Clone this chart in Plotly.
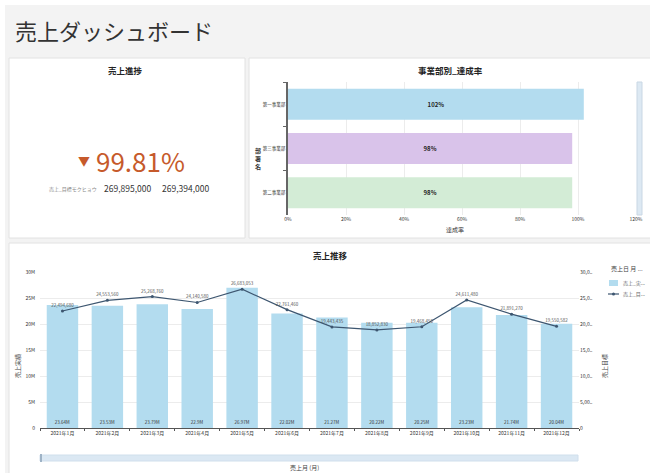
import plotly.graph_objects as go

W, H = 650, 473
FONT = "Noto Sans CJK JP, Noto Sans, sans-serif"

# ---------------- data ----------------
dashboard_title = "売上ダッシュボード"

kpi_title = "売上進捗"
kpi_label = "売上_目標モクヒョウ"
kpi_target = 269895000
kpi_actual = 269394000

dept_names = ["第一事業部", "第三事業部", "第二事業部"]
dept_rate = [1.02, 0.98, 0.98]
dept_colors = ["#b3dcef", "#d9c3ea", "#d3ecd6"]

months = ["2021年1月", "2021年2月", "2021年3月", "2021年4月", "2021年5月", "2021年6月",
          "2021年7月", "2021年8月", "2021年9月", "2021年10月", "2021年11月", "2021年12月"]
sales_actual = [23640000, 23530000, 23790000, 22900000, 26970000, 22020000,
                21270000, 20220000, 20250000, 23230000, 21740000, 20040000]
sales_target = [22494680, 24553560, 25268760, 24140580, 26683053, 22761460,
                19443435, 18852830, 19468450, 24611480, 21891270, 19550582]

left_ticks = [0, 5e6, 10e6, 15e6, 20e6, 25e6, 30e6]
left_ticktext = ["0", "5M", "10M", "15M", "20M", "25M", "30M"]
right_ticktext = ["0", "5,00..", "10,0..", "15,0..", "20,0..", "25,0..", "30,0.."]
rate_ticks = [0, 0.2, 0.4, 0.6, 0.8, 1.0, 1.2]


def px(x):
    return x / W


def py(y):
    return 1 - y / H


fig = go.Figure()

# ---------------- horizontal bar (事業部別_達成率) ----------------
fig.add_trace(go.Bar(
    x=dept_rate, y=dept_names, orientation="h",
    marker=dict(color=dept_colors, line=dict(width=0)),
    text=[f"{v:.0%}" for v in dept_rate], textposition="inside",
    insidetextanchor="middle",
    textfont=dict(size=6, color="#222", family=FONT, weight="bold"),
    xaxis="x", yaxis="y", showlegend=False, hoverinfo="x+y",
))

# ---------------- combo chart (売上推移) ----------------
fig.add_trace(go.Bar(
    x=months, y=sales_actual, name="売上_実...",
    marker=dict(color="#b3dcef", line=dict(width=0)),
    text=[f"{v/1e6:.2f}M".replace(".90M", ".9M") for v in sales_actual],
    textposition="inside", insidetextanchor="start",
    textfont=dict(size=4.5, color="#333", family=FONT),
    xaxis="x2", yaxis="y2", showlegend=False,
))
fig.add_trace(go.Scatter(
    x=months, y=sales_target, name="売上_目...", mode="lines+markers+text",
    line=dict(color="#3d5670", width=1.2),
    marker=dict(color="#3d5670", size=3),
    text=[f"{v:,}" for v in sales_target], textposition="top center",
    textfont=dict(size=4.5, color="#555", family=FONT),
    xaxis="x2", yaxis="y3", showlegend=False,
))

axis_font = dict(size=5, color="#333", family=FONT)

fig.update_layout(
    width=W, height=H,
    margin=dict(l=0, r=0, t=0, b=0, autoexpand=False),
    paper_bgcolor="white", plot_bgcolor="rgba(0,0,0,0)",
    font=dict(family=FONT, color="#333"),
    bargap=0.3,
    xaxis=dict(domain=[px(288), px(636)], range=[0, 1.2], tickvals=rate_ticks,
               tickformat=".0%", tickfont=axis_font, showgrid=True,
               gridcolor="#ececec", gridwidth=1, zeroline=False, showline=False,
               anchor="y", fixedrange=True, automargin=False),
    yaxis=dict(domain=[py(215), py(82)], categoryorder="array",
               categoryarray=dept_names, autorange="reversed",
               tickfont=dict(size=4.5, color="#333", family=FONT),
               showline=True, linecolor="#666", linewidth=1.5,
               ticks="outside", tickson="boundaries", ticklen=3, tickcolor="#666",
               showgrid=False, anchor="x", automargin=False),
    xaxis2=dict(domain=[px(40), px(579)], anchor="y2", tickfont=axis_font,
                range=[-0.5, len(months) - 0.5],
                showline=True, linecolor="#555", linewidth=1,
                ticks="outside", tickson="boundaries", ticklen=2, tickcolor="#555",
                showgrid=False, tickangle=0, automargin=False),
    yaxis2=dict(domain=[py(428), py(272)], range=[0, 30e6], tickvals=left_ticks,
                ticktext=left_ticktext, tickfont=axis_font, showgrid=True,
                gridcolor="#ececec", zeroline=False, anchor="x2",
                ticks="outside", ticklen=3, tickcolor="#fff", automargin=False),
    yaxis3=dict(range=[0, 30e6], overlaying="y2", side="right", anchor="x2",
                tickvals=left_ticks, ticktext=right_ticktext, tickfont=axis_font,
                showgrid=False, zeroline=False, automargin=False),
)

shapes = []
# gray background region
shapes.append(dict(type="rect", xref="paper", yref="paper", x0=px(5), x1=px(W + 5),
                   y0=py(H + 5), y1=py(5), fillcolor="#f3f3f3", line=dict(width=0),
                   layer="below"))
# cards
for (x0, y0, x1, y1) in [(9, 58, 245, 238), (249, 58, W + 5, 238), (9, 243, W + 5, H + 5)]:
    shapes.append(dict(type="rect", xref="paper", yref="paper", x0=px(x0), x1=px(x1),
                       y0=py(y1), y1=py(y0), fillcolor="white",
                       line=dict(color="#e2e2e2", width=1), layer="below"))
# vertical scrollbar of the bar chart
shapes.append(dict(type="rect", xref="paper", yref="paper", x0=px(637), x1=px(642),
                   y0=py(215), y1=py(82), fillcolor="#dde9f3",
                   line=dict(color="#c9d7e4", width=1), layer="above"))
# bottom range slider
shapes.append(dict(type="rect", xref="paper", yref="paper", x0=px(40), x1=px(578),
                   y0=py(461), y1=py(455), fillcolor="#dbe8f3",
                   line=dict(color="#d0dfec", width=1), layer="above"))
shapes.append(dict(type="rect", xref="paper", yref="paper", x0=px(40), x1=px(42),
                   y0=py(462), y1=py(454), fillcolor="#9fb3c6",
                   line=dict(width=0), layer="above"))
# manual legend glyphs
shapes.append(dict(type="rect", xref="paper", yref="paper", x0=px(609), x1=px(618),
                   y0=py(286), y1=py(280), fillcolor="#b3dcef", line=dict(width=0)))
shapes.append(dict(type="line", xref="paper", yref="paper", x0=px(608), x1=px(619),
                   y0=py(294), y1=py(294), line=dict(color="#3d5670", width=1.2)))
shapes.append(dict(type="circle", xref="paper", yref="paper", x0=px(612), x1=px(615),
                   y0=py(295.5), y1=py(292.5), fillcolor="#3d5670",
                   line=dict(color="#3d5670", width=0)))
fig.update_layout(shapes=shapes)

ann = []


def add_text(x, y, text, size, color="#333", bold=False, xanchor="center", angle=0):
    ann.append(dict(x=px(x), y=py(y), xref="paper", yref="paper", text=text,
                    showarrow=False, xanchor=xanchor, yanchor="middle", textangle=angle,
                    font=dict(size=size, color=color, family=FONT,
                              weight="bold" if bold else "normal")))


add_text(13, 30, dashboard_title, 22, "#333", xanchor="left")
add_text(126, 70, kpi_title, 8.5, "#222", bold=True)
add_text(450, 70, "事業部別_達成率", 8.5, "#222", bold=True)
add_text(330, 255, "売上推移", 8.5, "#222", bold=True)

# KPI
pct = kpi_actual / kpi_target
add_text(84, 160, "▼", 12, "#c65a2b")
add_text(140, 160, f"{pct:.2%}", 26, "#c65a2b")
add_text(73, 189, kpi_label, 5, "#888")
add_text(127, 188, f"{kpi_target:,}", 8.5, "#333")
add_text(185, 188, f"{kpi_actual:,}", 8.5, "#333")

# axis titles
add_text(258, 158, "部<br>署<br>名", 6, "#333", bold=True)
add_text(455, 230, "達成率", 6, "#333")
add_text(17, 366, "売上実績", 6, "#444", angle=-90)
add_text(604, 366, "売上目標", 6, "#444", angle=-90)
add_text(304, 467, "売上月 (月)", 6, "#444")

# manual legend texts
add_text(609, 268, "売上日 月 ...", 6, "#444", xanchor="left")
add_text(621, 283, "売上_実...", 5, "#666", xanchor="left")
add_text(621, 294, "売上_目...", 5, "#666", xanchor="left")

fig.update_layout(annotations=ann)

fig.write_html(
    "out.html",
    config={"displayModeBar": False},
    post_script="document.body.style.margin='0';document.body.style.overflow='hidden';",
)
